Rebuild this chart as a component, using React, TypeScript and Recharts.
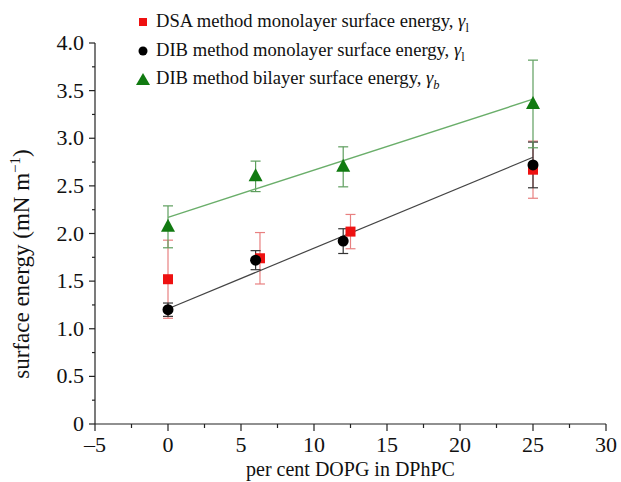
import React from 'react';
import { ComposedChart, Scatter, XAxis, YAxis, ErrorBar } from 'recharts';

// per cent DOPG, surface energy (mN/m), error
const dsaX = [0, 6.3, 12.5, 25];
const dsaY = [1.52, 1.74, 2.02, 2.67];
const dsaErr = [0.41, 0.27, 0.18, 0.3];

const monoX = [0, 6, 12, 25];
const monoY = [1.2, 1.72, 1.92, 2.72];
const monoErr = [0.07, 0.1, 0.13, 0.24];

const biX = [0, 6, 12, 25];
const biY = [2.07, 2.6, 2.7, 3.36];
const biErr = [0.22, 0.16, 0.21, 0.46];

// linear fits
const fitX = [0, 25];
const monoFitY = [1.21, 2.8];
const biFitY = [2.17, 3.41];

const xMajor = [-5, 0, 5, 10, 15, 20, 25, 30];
const xMinor = [-2.5, 2.5, 7.5, 12.5, 17.5, 22.5, 27.5];
const yMajor = [0, 0.5, 1, 1.5, 2, 2.5, 3, 3.5, 4];
const yMinor = [0.25, 0.75, 1.25, 1.75, 2.25, 2.75, 3.25, 3.75];

const xLabel = (v: number) => (v < 0 ? `\u2013${Math.abs(v)}` : `${v}`);
const yLabel = (v: number) => (v === 0 ? '0' : v.toFixed(1));

const FONT = '"Liberation Serif", "Times New Roman", serif';

const toPoints = (xs: number[], ys: number[], errs?: number[]) =>
  xs.map((x, i) => ({ x, y: ys[i], err: errs ? errs[i] : 0 }));

const dsaData = toPoints(dsaX, dsaY, dsaErr);
const monoData = toPoints(monoX, monoY, monoErr);
const biData = toPoints(biX, biY, biErr);
const monoFit = toPoints(fitX, monoFitY);
const biFit = toPoints(fitX, biFitY);

const RED = '#ee1111';
const GREEN = '#117a11';

const XTick = (props: any) => {
  const { x, y, payload } = props;
  const major = xMajor.includes(payload.value);
  return (
    <g>
      <line x1={x} x2={x} y1={y} y2={y + (major ? 7 : 4)} stroke="#222" strokeWidth={1.2} />
      {major && (
        <text x={x} y={y + 28} textAnchor="middle" fontSize={22} fontFamily={FONT} fill="#111">
          {xLabel(payload.value)}
        </text>
      )}
    </g>
  );
};

const YTick = (props: any) => {
  const { x, y, payload } = props;
  const major = yMajor.includes(payload.value);
  return (
    <g>
      <line x1={x} x2={x - (major ? 6 : 3)} y1={y} y2={y} stroke="#222" strokeWidth={1.2} />
      {major && (
        <text x={x - 11} y={y + 7} textAnchor="end" fontSize={22} fontFamily={FONT} fill="#111">
          {yLabel(payload.value)}
        </text>
      )}
    </g>
  );
};

const Square = (p: any) => <rect x={p.cx - 5} y={p.cy - 5} width={10} height={10} fill={RED} />;
const Dot = (p: any) => <circle cx={p.cx} cy={p.cy} r={5.5} fill="#000" />;
const Tri = (p: any) => (
  <polygon points={`${p.cx},${p.cy - 8} ${p.cx - 7},${p.cy + 5} ${p.cx + 7},${p.cy + 5}`} fill={GREEN} />
);
const Nothing = () => <g />;

const legendRows = [
  { text: 'DSA method monolayer surface energy, ', sub: 'l', marker: 'square' },
  { text: 'DIB method monolayer surface energy, ', sub: 'l', marker: 'dot' },
  { text: 'DIB method bilayer surface energy, ', sub: 'b', marker: 'tri' },
];

const LegendMarker = ({ kind }: { kind: string }) => (
  <svg width={14} height={14} style={{ marginRight: 6, flex: 'none' }}>
    {kind === 'square' && <rect x={3} y={3} width={8} height={8} fill={RED} />}
    {kind === 'dot' && <circle cx={7} cy={7} r={4.5} fill="#000" />}
    {kind === 'tri' && <polygon points="7,1 0,13 14,13" fill={GREEN} />}
  </svg>
);

export default function App() {
  return (
    <div style={{ position: 'absolute', left: 0, top: 0, width: 621, height: 482, background: '#fff', fontFamily: FONT }}>
      <ComposedChart width={621} height={482} margin={{ top: 43, right: 15, bottom: 28, left: 35 }}>
        <XAxis
          type="number"
          dataKey="x"
          domain={[-5, 30]}
          ticks={[...xMajor, ...xMinor].sort((a, b) => a - b)}
          interval={0}
          tickSize={0}
          tickMargin={0}
          tick={<XTick />}
          height={30}
          stroke="#222"
          strokeWidth={1.2}
          allowDataOverflow
        />
        <YAxis
          type="number"
          dataKey="y"
          domain={[0, 4]}
          ticks={[...yMajor, ...yMinor].sort((a, b) => a - b)}
          interval={0}
          tickSize={0}
          tickMargin={0}
          tick={<YTick />}
          width={60}
          stroke="#222"
          strokeWidth={1.2}
          allowDataOverflow
        />
        <Scatter data={monoFit} line={{ stroke: '#444', strokeWidth: 1.2 }} shape={<Nothing />} isAnimationActive={false} />
        <Scatter data={biFit} line={{ stroke: '#6aae6a', strokeWidth: 1.4 }} shape={<Nothing />} isAnimationActive={false} />
        <Scatter data={dsaData} shape={<Square />} isAnimationActive={false}>
          <ErrorBar dataKey="err" direction="y" width={5} stroke="#e88080" strokeWidth={1.2} />
        </Scatter>
        <Scatter data={monoData} shape={<Dot />} isAnimationActive={false}>
          <ErrorBar dataKey="err" direction="y" width={5} stroke="#333" strokeWidth={1.2} />
        </Scatter>
        <Scatter data={biData} shape={<Tri />} isAnimationActive={false}>
          <ErrorBar dataKey="err" direction="y" width={5} stroke="#5e9e5e" strokeWidth={1.2} />
        </Scatter>
      </ComposedChart>

      <div style={{ position: 'absolute', left: 136, top: 8, fontSize: 18.6, color: '#111' }}>
        {legendRows.map((r) => (
          <div key={r.text} style={{ display: 'flex', alignItems: 'center', whiteSpace: 'nowrap', height: 28.5 }}>
            <LegendMarker kind={r.marker} />
            <span style={{ lineHeight: '20px' }}>
              {r.text}
              <i>&gamma;</i>
              <span style={{ fontSize: 12.5, position: 'relative', top: 5, fontStyle: r.sub === 'b' ? 'italic' : 'normal' }}>
                {r.sub}
              </span>
            </span>
          </div>
        ))}
      </div>

      <div style={{ position: 'absolute', left: 0, width: 621, top: 458, textAlign: 'center', fontSize: 20, color: '#111', paddingLeft: 80, boxSizing: 'border-box' }}>
        per cent DOPG in DPhPC
      </div>
      <div
        style={{
          position: 'absolute',
          left: 23,
          top: 264,
          transform: 'translate(-50%, -50%) rotate(-90deg)',
          fontSize: 23,
          color: '#111',
          whiteSpace: 'nowrap',
          lineHeight: '24px',
        }}
      >
        surface energy (mN m<span style={{ fontSize: 15, position: 'relative', top: -9 }}>&minus;1</span>)
      </div>
    </div>
  );
}
